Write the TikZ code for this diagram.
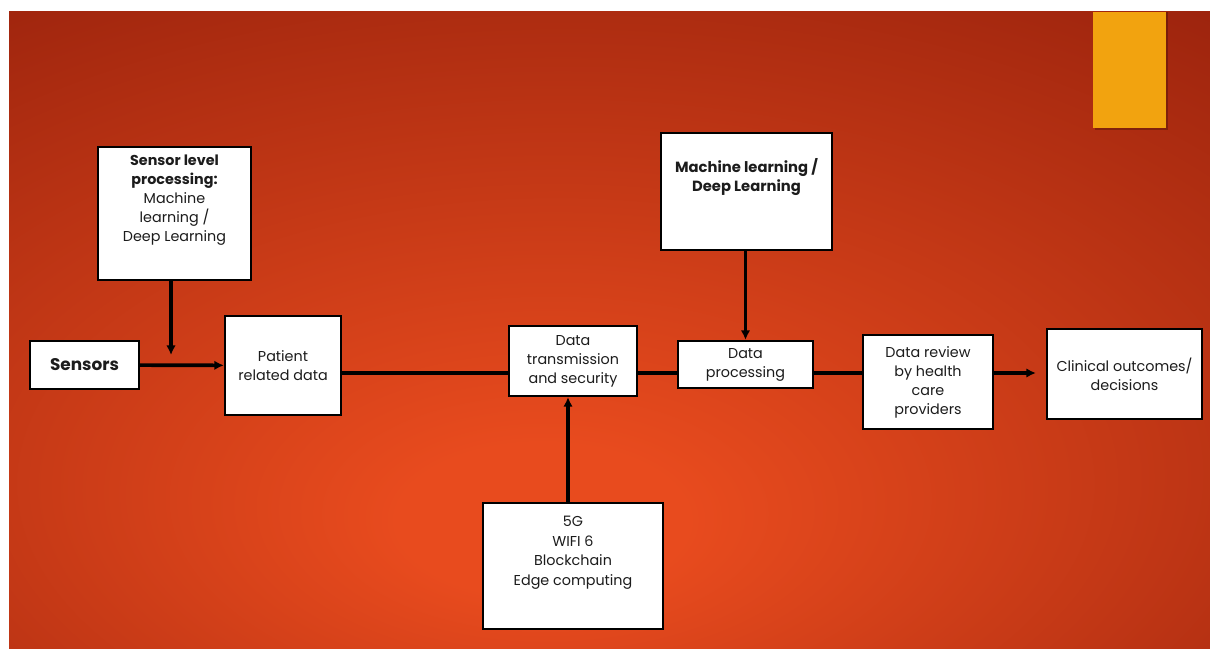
\documentclass[tikz,border=0pt]{standalone}
\usepackage{fontspec}
\setmainfont{Poppins}
\usetikzlibrary{positioning,arrows.meta}
\definecolor{bgin}{HTML}{E84B1E}
\definecolor{bgout}{HTML}{8A1A09}
\definecolor{tab}{HTML}{F2A30F}
\definecolor{ink}{HTML}{1C1C1C}
\pgfdeclareradialshading{slide}{\pgfpoint{-3bp}{-16bp}}{color(0bp)=(bgin); color(6bp)=(bgin); color(52bp)=(bgout); color(90bp)=(bgout)}
\begin{document}
\begin{tikzpicture}[x=0.25mm,y=-0.25mm,
  box/.style={draw=black,line width=1.6pt,fill=white,inner sep=0pt,text=ink,align=center,font=\fontsize{10.2}{13.5}\selectfont},
  txt/.style={inner sep=0pt,text=ink,align=center,font=\fontsize{10.2}{13.5}\selectfont},
  wire/.style={line width=2.6pt},
  arr/.style={line width=2.6pt,-{Latex[length=2.4mm,width=2.4mm]}}]
\useasboundingbox (0,0) rectangle (1210,649);
\shade[shading=slide] (9,12) rectangle (1210,649);
\fill[black,opacity=.25] (1095,12) rectangle (1168,130);
\fill[tab] (1093,12) rectangle (1166,128);
% boxes
\node[box,minimum width=38.25mm,minimum height=33.25mm] (slp) at (174.5,213.5) {};
\node[txt,below=2.1mm of slp.north] (slp-txt) {\textbf{Sensor level}\\\textbf{processing:}\\Machine\\learning /\\Deep Learning};
\node[box,minimum width=27.25mm,minimum height=12mm,font=\bfseries\fontsize{12}{14}\selectfont] (sensors) at (84.5,365) {Sensors};
\node[box,minimum width=29mm,minimum height=24.75mm] (patient) at (283,365.5) {Patient\\related data};
\node[box,minimum width=32mm,minimum height=17.5mm] (trans) at (573,361) {Data\\transmission\\and security};
\node[box,minimum width=33.75mm,minimum height=11.75mm] (proc) at (745.5,364.5) {Data\\processing};
\node[box,minimum width=42.75mm,minimum height=29.25mm] (ml) at (746.5,191.5) {};
\node[txt,below=6.7mm of ml.north,font=\bfseries\fontsize{10.5}{13.5}\selectfont] (ml-txt) {Machine learning /\\Deep Learning};
\node[box,minimum width=45mm,minimum height=31.5mm] (net) at (573,566) {};
\node[txt,below=3.5mm of net.north,font=\fontsize{10.2}{14}\selectfont] (net-txt) {5G\\WIFI 6\\Blockchain\\Edge computing};
\node[box,minimum width=32.5mm,minimum height=23.5mm] (review) at (928,382) {Data review\\by health\\care\\providers};
\node[box,minimum width=38.75mm,minimum height=22.5mm] (outcome) at (1124.5,374) {Clinical outcomes/\\decisions};
% connectors
\coordinate (bus) at (0,373);
\coordinate (join) at (171,355);
\draw[arr] (sensors) -- (patient);
\draw[arr] (slp.south -| join) -- (join);
\draw[wire] (patient.east |- bus) -- (trans.west |- bus);
\draw[wire] (trans.east |- bus) -- (proc.west |- bus);
\draw[wire] (proc.east |- bus) -- (review.west |- bus);
\draw[arr,shorten >=2.5mm] (review.east |- bus) -- (outcome.west |- bus);
\draw[arr] (proc.north |- ml.south) -- (proc.north);
\draw[arr] ([xshift=-1.25mm]net.north) -- ([xshift=-1.25mm]trans.south);
\end{tikzpicture}
\end{document}
